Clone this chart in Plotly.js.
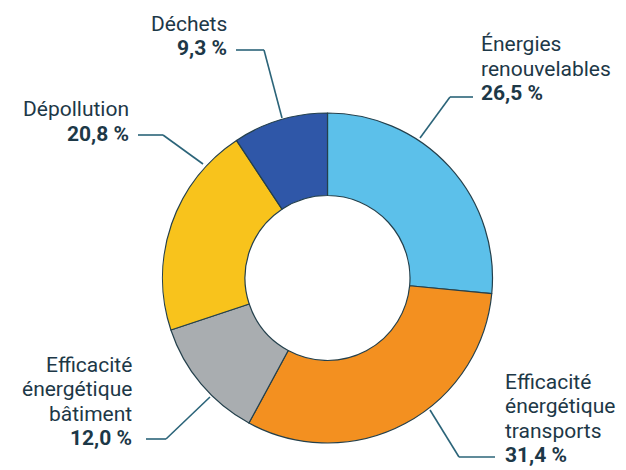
<!DOCTYPE html>
<html>
<head>
<meta charset="utf-8">
<script src="https://cdn.plot.ly/plotly-3.0.1.min.js"></script>
<style>html,body{margin:0;padding:0;background:#fff;}#chart{width:626px;height:470px;}</style>
</head>
<body>
<div id="chart"></div>
<script>
// ---- Data ----
const categories = ["Énergies renouvelables", "Efficacité énergétique transports", "Efficacité énergétique bâtiment", "Dépollution", "Déchets"];
const values = [26.5, 31.4, 12.0, 20.8, 9.3];
const labelLines = [["Énergies", "renouvelables"], ["Efficacité", "énergétique", "transports"], ["Efficacité", "énergétique", "bâtiment"], ["Dépollution"], ["Déchets"]];
const colors = ["#5cc0ea", "#f39020", "#a9adb0", "#f8c31c", "#2f57a8"];

// ---- Layout helpers (pixel positions of labels / leader lines) ----
const W = 626, H = 470;
const px = x => x / W;
const py = y => 1 - y / H;
const labelStyle = [
  {x: 479, anchor: "left",  lastBaseline: 100, leader: [[473, 97], [450, 97], [420, 138]]},
  {x: 503, anchor: "left",  lastBaseline: 462, leader: [[495, 457], [459, 457], [430, 410]]},
  {x: 134, anchor: "right", lastBaseline: 445, leader: [[146, 439], [166, 439], [210, 397]]},
  {x: 131, anchor: "right", lastBaseline: 141, leader: [[138, 135], [163, 135], [203, 164]]},
  {x: 229, anchor: "right", lastBaseline: 55,  leader: [[236, 50], [264, 50], [282, 118]]}
];
const lineGap = 24.5;
const textColor = "#1d3847";
const leaderColor = "#2b6479";

const fmt = v => v.toFixed(1).replace(".", ",") + " %";

const annotations = [];
const shapes = [];
categories.forEach((cat, i) => {
  const st = labelStyle[i];
  const lines = labelLines[i].concat(["<b>" + fmt(values[i]) + "</b>"]);
  const n = lines.length;
  lines.forEach((t, k) => {
    const baseline = st.lastBaseline - (n - 1 - k) * lineGap;
    annotations.push({
      text: t, showarrow: false, xref: "paper", yref: "paper",
      x: px(st.x), y: py(baseline - 7), xanchor: st.anchor, yanchor: "middle",
      font: {family: "Roboto, sans-serif", size: 21, color: textColor}
    });
  });
  const p = st.leader;
  for (let s = 0; s < p.length - 1; s++) {
    shapes.push({type: "line", xref: "paper", yref: "paper",
      x0: px(p[s][0]), y0: py(p[s][1]), x1: px(p[s + 1][0]), y1: py(p[s + 1][1]),
      line: {color: leaderColor, width: 1.6}});
  }
});

const trace = {
  type: "pie",
  labels: categories,
  values: values,
  hole: 0.5,
  sort: false,
  direction: "clockwise",
  rotation: 0,
  textinfo: "none",
  hoverinfo: "label+percent",
  marker: {colors: colors, line: {color: "#24404c", width: 1.2}},
  domain: {x: [px(327.5 - 165), px(327.5 + 165)], y: [py(278 + 165), py(278 - 165)]},
  showlegend: false
};

const layout = {
  width: W, height: H,
  margin: {l: 0, r: 0, t: 0, b: 0},
  paper_bgcolor: "#ffffff",
  plot_bgcolor: "#ffffff",
  showlegend: false,
  annotations: annotations,
  shapes: shapes
};

Plotly.newPlot("chart", [trace], layout, {displayModeBar: false, staticPlot: true});
</script>
</body>
</html>
